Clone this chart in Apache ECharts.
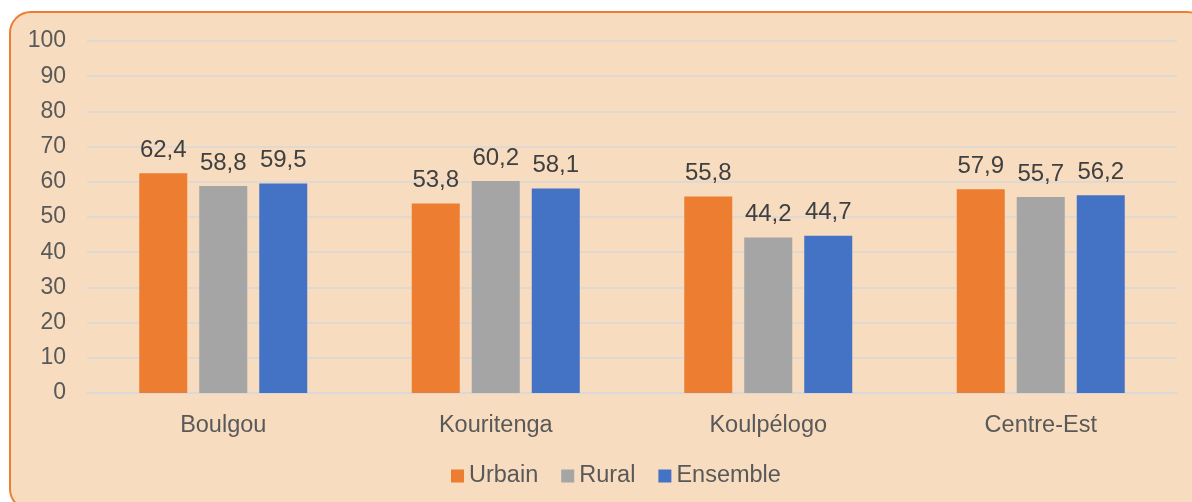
<!DOCTYPE html>
<html lang="fr">
<head>
  <meta charset="UTF-8">
  <script src="https://cdn.jsdelivr.net/npm/echarts@6/dist/echarts.min.js"></script>
  <style>
    html, body { margin: 0; background: #ffffff; }
    .frame {
      position: absolute;
      left: 9px; top: 11px;
      width: 1200px; height: 500px;
      box-sizing: border-box;
      background: #F7DCBF;
      border: 2px solid #ED7D31;
      border-radius: 22px;
    }
    #chart { position: absolute; left: 0; top: 0; width: 1192px; height: 502px; }
  </style>
</head>
<body>
  <div class="frame"></div>
  <div id="chart"></div>
  <script>
    var provinces = ['Boulgou', 'Kouritenga', 'Koulpélogo', 'Centre-Est'];
    var urbain = [62.4, 53.8, 55.8, 57.9];
    var rural = [58.8, 60.2, 44.2, 55.7];
    var ensemble = [59.5, 58.1, 44.7, 56.2];

    var textColor = '#595959';
    var font = 'Liberation Sans, Arial, sans-serif';

    function makeSeries(name, values, color) {
      return {
        name: name,
        type: 'bar',
        data: values,
        barWidth: 48,
        barGap: '25%',
        itemStyle: { color: color },
        label: {
          show: true,
          position: 'top',
          distance: 11,
          color: '#404040',
          fontFamily: font,
          fontSize: 24,
          formatter: function (p) { return p.value.toFixed(1).replace('.', ','); }
        }
      };
    }

    var chart = echarts.init(document.getElementById('chart'), null, { renderer: 'canvas' });
    chart.setOption({
      animation: false,
      textStyle: { fontFamily: font },
      grid: { left: 87, right: 15, top: 41, bottom: 109 },
      legend: {
        bottom: 9,
        left: 446,
        itemWidth: 13,
        itemHeight: 13,
        itemGap: 23,
        icon: 'rect',
        textStyle: { color: textColor, fontSize: 23.5, fontFamily: font },
        data: ['Urbain', 'Rural', 'Ensemble']
      },
      xAxis: {
        type: 'category',
        data: provinces,
        axisLine: { lineStyle: { color: '#D9D9D9', width: 1.5 } },
        axisTick: { show: false },
        axisLabel: { color: textColor, fontSize: 23.5, margin: 21, fontFamily: font }
      },
      yAxis: {
        type: 'value',
        min: 0,
        max: 100,
        interval: 10,
        axisLine: { show: false },
        axisTick: { show: false },
        axisLabel: { color: textColor, fontSize: 23, margin: 21, fontFamily: font },
        splitLine: { lineStyle: { color: '#D9D9D9', width: 1.5 } }
      },
      series: [
        makeSeries('Urbain', urbain, '#ED7D31'),
        makeSeries('Rural', rural, '#A5A5A5'),
        makeSeries('Ensemble', ensemble, '#4472C4')
      ]
    });
  </script>
</body>
</html>
